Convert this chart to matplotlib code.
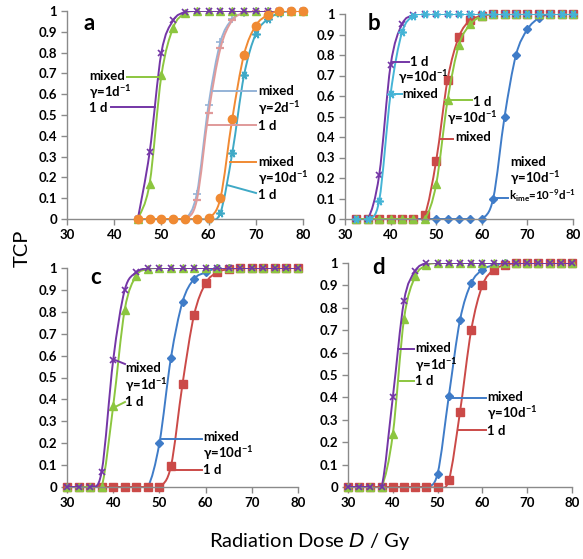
import numpy as np
import matplotlib
matplotlib.use("Agg")
import matplotlib.pyplot as plt
from matplotlib.path import Path
from matplotlib.patches import PathPatch

plt.rcParams['font.family'] = ['Lato', 'DejaVu Sans']
plt.rcParams['mathtext.default'] = 'regular'

# ---------------- data ----------------
# panel a : doses 45..80 step 2.5
xa = [45, 47.5, 50, 52.5, 55, 57.5, 60, 62.5, 65, 67.5, 70, 72.5, 75, 77.5, 80]
a_1d_g1 = [0, 0.32, 0.80, 0.955, 0.995, 1, 1, 1, 1, 1, 1, 1, 1, 1, 1]
a_mix_g1 = [0, 0.17, 0.69, 0.92, 0.99, 1, 1, 1, 1, 1, 1, 1, 1, 1, 1]
a_mix_g2 = [0, 0, 0, 0, 0, 0.12, 0.55, 0.85, 0.96, 0.99, 1, 1, 1, 1, 1]
a_1d_g2 = [0, 0, 0, 0, 0, 0.09, 0.51, 0.82, 0.955, 0.99, 1, 1, 1, 1, 1]
a_mix_g10 = [0, 0, 0, 0, 0, 0, 0.005, 0.10, 0.48, 0.79, 0.93, 0.98, 1, 1, 1]
a_1d_g10 = [0, 0, 0, 0, 0, 0, 0, 0.03, 0.315, 0.69, 0.89, 0.96, 0.99, 1, 1]

# panel b : doses 32.5..80 step 2.5
xb = [32.5, 35, 37.5, 40, 42.5, 45, 47.5, 50, 52.5, 55, 57.5, 60, 62.5,
      65, 67.5, 70, 72.5, 75, 77.5, 80]
b_1d_a = [0, 0, 0.215, 0.75, 0.95, 0.995, 1, 1, 1, 1, 1, 1, 1, 1, 1, 1, 1, 1, 1, 1]
b_mix_a = [0, 0, 0.09, 0.61, 0.91, 0.99, 1, 1, 1, 1, 1, 1, 1, 1, 1, 1, 1, 1, 1, 1]
b_mix_b = [0, 0, 0, 0, 0, 0, 0.02, 0.285, 0.68, 0.89, 0.97, 0.99, 1, 1, 1, 1, 1, 1, 1, 1]
b_1d_b = [0, 0, 0, 0, 0, 0, 0, 0.17, 0.58, 0.85, 0.95, 0.99, 1, 1, 1, 1, 1, 1, 1, 1]
b_mix_kime = [0, 0, 0, 0, 0, 0, 0, 0, 0, 0, 0, 0, 0.10, 0.50, 0.80, 0.925, 0.98, 1, 1, 1]

# panel c : doses 30..80 step 2.5
xc = [30, 32.5, 35, 37.5, 40, 42.5, 45, 47.5, 50, 52.5, 55, 57.5, 60, 62.5,
      65, 67.5, 70, 72.5, 75, 77.5, 80]
c_mix_g1 = [0, 0, 0, 0.07, 0.58, 0.90, 0.98, 1, 1, 1, 1, 1, 1, 1, 1, 1, 1, 1, 1, 1, 1]
c_1d_g1 = [0, 0, 0, 0, 0.37, 0.81, 0.965, 0.995, 1, 1, 1, 1, 1, 1, 1, 1, 1, 1, 1, 1, 1]
c_mix_g10 = [0, 0, 0, 0, 0, 0, 0, 0, 0.20, 0.59, 0.845, 0.95, 0.98, 1, 1, 1, 1, 1, 1, 1, 1]
c_1d_g10 = [0, 0, 0, 0, 0, 0, 0, 0, 0, 0.095, 0.47, 0.785, 0.93, 0.98, 0.995, 1, 1, 1, 1, 1, 1]

# panel d : doses 30..80 step 2.5
xd = xc
d_mix_g1 = [0, 0, 0, 0, 0.40, 0.83, 0.965, 1, 1, 1, 1, 1, 1, 1, 1, 1, 1, 1, 1, 1, 1]
d_1d_g1 = [0, 0, 0, 0, 0.235, 0.75, 0.94, 0.99, 1, 1, 1, 1, 1, 1, 1, 1, 1, 1, 1, 1, 1]
d_mix_g10 = [0, 0, 0, 0, 0, 0, 0, 0, 0.06, 0.405, 0.745, 0.91, 0.97, 0.99, 1, 1, 1, 1, 1, 1, 1]
d_1d_g10 = [0, 0, 0, 0, 0, 0, 0, 0, 0, 0.03, 0.335, 0.70, 0.90, 0.97, 0.99, 1, 1, 1, 1, 1, 1]

# ---------------- style ----------------
PURPLE = '#7436A6'
GREEN = '#8CC63F'
LBLUE = '#95B3D7'
PINK = '#E09A9A'
ORANGE = '#F08A33'
TEAL = '#3FA9C6'
CYAN = '#45B4D6'
RED = '#CB4A48'
BLUE = '#3F7CC8'
AXC = '#8A8A8A'
ASTER = (6, 2, 90)
TICKFS = 9.5
NOTEFS = 9.5

fig = plt.figure(figsize=(5.83, 5.59), dpi=100)
W, H = 583, 559


def add_axes(l, r, t, b):
    return fig.add_axes([l / W, 1 - b / H, (r - l) / W, (b - t) / H])


def smooth(ax, x, y, color, lw=1.4, z=2):
    x = np.asarray(x, float)
    y = np.asarray(y, float)
    P = np.column_stack([x, y])
    n = len(P)
    verts = [P[0]]
    codes = [Path.MOVETO]
    for i in range(n - 1):
        p0 = P[i - 1] if i > 0 else P[i]
        p1 = P[i]
        p2 = P[i + 1]
        p3 = P[i + 2] if i + 2 < n else P[i + 1]
        c1 = p1 + (p2 - p0) / 6.0
        c2 = p2 - (p3 - p1) / 6.0
        verts += [c1, c2, p2]
        codes += [Path.CURVE4] * 3
    ax.add_patch(PathPatch(Path(verts, codes), fill=False, edgecolor=color,
                           lw=lw, zorder=z, capstyle='round', joinstyle='round'))


def series(ax, x, y, color, marker, ms=5.5, mew=1.2, z=2, filled=True):
    smooth(ax, x, y, color, z=z)
    if filled:
        ax.plot(x, y, ls='none', marker=marker, ms=ms, color=color,
                mec=color, zorder=z + 0.1, clip_on=False)
    else:
        ax.plot(x, y, ls='none', marker=marker, ms=ms, mew=mew, color=color,
                zorder=z + 0.1, clip_on=False)


def style(ax):
    ax.set_xlim(30, 80)
    ax.set_ylim(0, 1)
    ax.set_xticks([30, 40, 50, 60, 70, 80])
    ax.set_yticks(np.arange(0, 1.01, 0.1))
    ax.set_yticklabels(['0', '0.1', '0.2', '0.3', '0.4', '0.5', '0.6', '0.7',
                        '0.8', '0.9', '1'])
    for s in ['top', 'right']:
        ax.spines[s].set_visible(False)
    for s in ['left', 'bottom']:
        ax.spines[s].set_color(AXC)
        ax.spines[s].set_linewidth(1.0)
    ax.tick_params(direction='out', length=4, width=1.0, color=AXC,
                   labelsize=TICKFS, pad=3)
    for lab in ax.get_xticklabels() + ax.get_yticklabels():
        lab.set_fontweight('bold')
    ax.set_facecolor('none')


def note(ax, px, py, s, size=NOTEFS):
    fig.text(px / W, 1 - py / H, s, fontsize=size, fontweight='bold',
             va='center', ha='left')


def leader(x0, y0, x1, y1, color):
    fig.add_artist(plt.Line2D([x0 / W, x1 / W], [1 - y0 / H, 1 - y1 / H],
                              color=color, lw=1.4))


# ---------------- panel a ----------------
axa = add_axes(67, 303, 11, 219)
series(axa, xa, a_1d_g10, TEAL, ASTER, ms=6, filled=False, z=2)
series(axa, xa, a_mix_g2, LBLUE, '+', ms=6, filled=False, z=2.2)
series(axa, xa, a_1d_g2, PINK, '_', ms=6, mew=1.6, filled=False, z=2.4)
series(axa, xa, a_mix_g1, GREEN, '^', ms=5.5, z=2.6)
series(axa, xa, a_1d_g1, PURPLE, 'x', ms=5, filled=False, z=2.8)
series(axa, xa, a_mix_g10, ORANGE, 'o', ms=6, z=3.0)
style(axa)
fig.text(83 / W, 1 - 23 / H, 'a', fontsize=16, fontweight='bold', va='center')

note(axa, 89, 76, 'mixed')
note(axa, 89, 92, r'$\gamma$=1d$^{-1}$')
note(axa, 89, 108, '1 d')
leader(127, 77, 159, 77, GREEN)
leader(111, 107, 155, 107, PURPLE)
note(axa, 258, 91, 'mixed')
note(axa, 258, 108, r'$\gamma$=2d$^{-1}$')
note(axa, 258, 126, '1 d')
leader(213, 91, 256, 91, LBLUE)
leader(208, 125, 256, 125, PINK)
note(axa, 258, 162, 'mixed')
note(axa, 258, 178, r'$\gamma$=10d$^{-1}$')
note(axa, 258, 195, '1 d')
leader(230, 162, 256, 162, ORANGE)
leader(227, 185, 256, 193, TEAL)

# ---------------- panel b ----------------
axb = add_axes(345, 573, 14, 219)
series(axb, xb, b_mix_kime, BLUE, 'D', ms=4.5, z=2)
series(axb, xb, b_mix_b, RED, 's', ms=5.5, z=2.2)
series(axb, xb, b_1d_b, GREEN, '^', ms=5.5, z=2.4)
series(axb, xb, b_1d_a, PURPLE, 'x', ms=5, filled=False, z=2.6)
series(axb, xb, b_mix_a, CYAN, ASTER, ms=6, filled=False, z=2.8)
style(axb)
fig.text(368 / W, 1 - 23 / H, 'b', fontsize=16, fontweight='bold', va='center')

note(axb, 410, 62, '1 d')
note(axb, 398, 77, r'$\gamma$=10d$^{-1}$')
note(axb, 402, 94, 'mixed')
leader(393, 62, 409, 62, PURPLE)
leader(395, 94, 402, 94, CYAN)
note(axb, 473, 102, '1 d')
note(axb, 447, 118, r'$\gamma$=10d$^{-1}$')
note(axb, 455, 137, 'mixed')
leader(445, 100, 472, 100, GREEN)
leader(441, 139, 453, 139, RED)
note(axb, 510, 162, 'mixed')
note(axb, 510, 178, r'$\gamma$=10d$^{-1}$')
note(axb, 509, 196, r'k$_{ime}$=10$^{-9}$d$^{-1}$', size=8.3)
leader(493, 198, 508, 198, BLUE)

# ---------------- panel c ----------------
axc = add_axes(67, 298, 268, 487)
series(axc, xc, c_mix_g10, BLUE, 'D', ms=4.5, z=2)
series(axc, xc, c_1d_g10, RED, 's', ms=5.5, z=2.2)
series(axc, xc, c_1d_g1, GREEN, '^', ms=5.5, z=2.4)
series(axc, xc, c_mix_g1, PURPLE, 'x', ms=5, filled=False, z=2.6)
style(axc)
fig.text(90 / W, 1 - 277 / H, 'c', fontsize=16, fontweight='bold', va='center')

note(axc, 125, 368, 'mixed')
note(axc, 125, 385, r'$\gamma$=1d$^{-1}$')
note(axc, 125, 402, '1 d')
leader(115, 360, 125, 364, PURPLE)
leader(113, 408, 125, 402, GREEN)
note(axc, 203, 437, 'mixed')
note(axc, 203, 453, r'$\gamma$=10d$^{-1}$')
note(axc, 203, 470, '1 d')
leader(162, 439, 202, 439, BLUE)
leader(173, 470, 202, 470, RED)

# ---------------- panel d ----------------
axd = add_axes(348, 572, 263, 487)
series(axd, xd, d_mix_g10, BLUE, 'D', ms=4.5, z=2)
series(axd, xd, d_1d_g10, RED, 's', ms=5.5, z=2.2)
series(axd, xd, d_1d_g1, GREEN, '^', ms=5.5, z=2.4)
series(axd, xd, d_mix_g1, PURPLE, 'x', ms=5, filled=False, z=2.6)
style(axd)
fig.text(372 / W, 1 - 268 / H, 'd', fontsize=16, fontweight='bold', va='center')

note(axd, 415, 348, 'mixed')
note(axd, 415, 365, r'$\gamma$=1d$^{-1}$')
note(axd, 415, 381, '1 d')
leader(398, 349, 414, 349, PURPLE)
leader(400, 381, 414, 381, GREEN)
note(axd, 487, 397, 'mixed')
note(axd, 487, 413, r'$\gamma$=10d$^{-1}$')
note(axd, 487, 431, '1 d')
leader(447, 398, 486, 398, BLUE)
leader(458, 430, 486, 430, RED)

# ---------------- axis titles ----------------
fig.text(22 / W, 1 - 248 / H, 'TCP', fontsize=14.5, rotation=90,
         va='center', ha='center')
fig.text(310 / W, 1 - 542 / H, r'Radiation Dose $\mathit{D}$ / Gy', fontsize=14.5,
         va='center', ha='center')

fig.savefig('out.png', dpi=100)
